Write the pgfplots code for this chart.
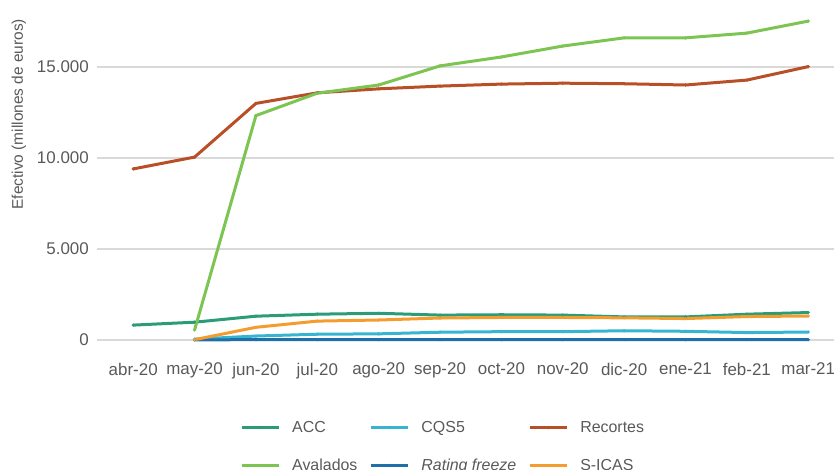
\documentclass[border=0pt]{standalone}
\usepackage{fontspec}
\setmainfont{Liberation Sans}
\usepackage{pgfplots}
\pgfplotsset{compat=1.18}

\definecolor{cACC}{HTML}{2A9D78}
\definecolor{cCQS}{HTML}{36B5D0}
\definecolor{cRec}{HTML}{B84F27}
\definecolor{cAval}{HTML}{7DC553}
\definecolor{cRF}{HTML}{1F6FA8}
\definecolor{cSICAS}{HTML}{F49D2E}
\definecolor{gridgray}{HTML}{D9D9D9}
\definecolor{txtgray}{HTML}{595959}

\begin{document}
\begin{tikzpicture}
\useasboundingbox (0bp,0bp) rectangle (834bp,470bp);
\clip (0bp,0bp) rectangle (834bp,470bp);
\begin{axis}[
  at={(97bp,115.4bp)}, anchor=south west,
  scale only axis, width=737bp, height=354.6bp,
  xmin=-0.59, xmax=11.42, ymin=-800, ymax=18680,
  axis line style={draw=none}, major tick length=0pt,
  scaled y ticks=false,
  xtick={0,...,11},
  xticklabels={abr-20,may-20,jun-20,jul-20,ago-20,sep-20,oct-20,nov-20,dic-20,ene-21,feb-21,mar-21},
  ytick={0,5000,10000,15000},
  yticklabels={0,{5.000},{10.000},{15.000}},
  ymajorgrids, grid style={color=gridgray, line width=2.2bp},
  ticklabel style={font=\fontsize{17}{20}\selectfont, text=txtgray, inner sep=0pt},
  yticklabel style={xshift=-8bp},
  xticklabel style={yshift=-8bp},
  ylabel={Efectivo (millones de euros)},
  ylabel style={at={(axis description cs:-0.106,0.678)}, anchor=center,
    font=\fontsize{15.5}{18}\selectfont, text=txtgray},
  every axis plot/.append style={line width=3bp, mark=*, mark size=1.4bp,
    mark options={solid, line width=0.4bp}},
  legend columns=3,
  legend cell align=left,
  legend image code/.code={\draw[mark repeat=2,mark phase=2,#1] plot coordinates {(0bp,0bp) (18.5bp,0bp) (37bp,0bp)};},
  legend style={at={(axis description cs:0.194,-0.1875)}, anchor=north west,
    draw=none, fill=none, inner sep=0pt, row sep=25bp,
    font=\fontsize{16}{19}\selectfont, text=txtgray,
    nodes={inner sep=0pt},
    /tikz/every odd column/.style={column sep=12bp},
    /tikz/every even column/.style={column sep=12bp}},
]
% ACC
\addplot[cACC] coordinates {(0,820) (1,980) (2,1310) (3,1420) (4,1470) (5,1370) (6,1390) (7,1370) (8,1270) (9,1270) (10,1420) (11,1510)};
\addlegendentry{ACC}
% CQS5
\addplot[cCQS] coordinates {(1,50) (2,220) (3,320) (4,340) (5,430) (6,460) (7,460) (8,510) (9,480) (10,410) (11,440)};
\addlegendentry{CQS5}
% Recortes
\addplot[cRec] coordinates {(0,9400) (1,10050) (2,13000) (3,13580) (4,13800) (5,13950) (6,14060) (7,14110) (8,14080) (9,14010) (10,14280) (11,15020)};
\addlegendentry{Recortes}
% Avalados
\addplot[cAval] coordinates {(1,550) (2,12330) (3,13560) (4,14010) (5,15060) (6,15550) (7,16150) (8,16600) (9,16600) (10,16860) (11,17520)};
\addlegendentry{Avalados}
% Rating freeze
\addplot[cRF] coordinates {(1,10) (2,20) (3,20) (4,20) (5,20) (6,20) (7,20) (8,20) (9,20) (10,20) (11,20)};
\addlegendentry{\itshape Rating freeze}
% S-ICAS
\addplot[cSICAS] coordinates {(1,20) (2,700) (3,1040) (4,1100) (5,1210) (6,1240) (7,1240) (8,1220) (9,1180) (10,1290) (11,1320)};
\addlegendentry{S-ICAS}
\end{axis}
\end{tikzpicture}
\end{document}
